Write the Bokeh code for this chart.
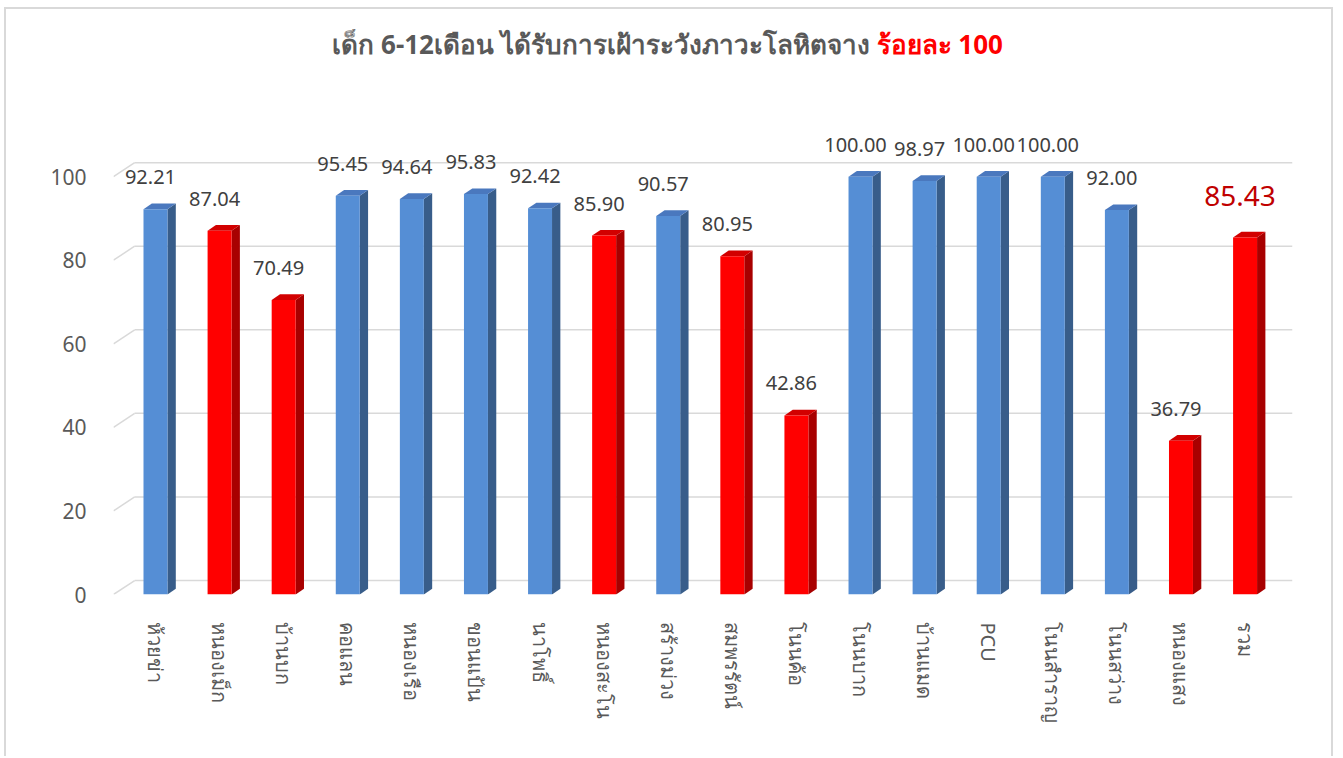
from bokeh.plotting import figure
from bokeh.models import ColumnDataSource, FixedTicker, LabelSet, Label, Range1d
from bokeh.core.properties import value
from bokeh.embed import file_html
from bokeh.resources import INLINE

# ---------------- data ----------------
categories = ["ห้วยข่า", "หนองเม็ก", "บ้านบก", "คอแลน", "หนองเรือ", "ขอนแป้น",
              "นาโพธิ์", "หนองสะโน", "สร้างม่วง", "สมพรรัตน์", "โนนค้อ", "โนนบาก",
              "บ้านแมด", "PCU", "โนนสำราญ", "โนนสว่าง", "หนองแสง", "รวม"]
values = [92.21, 87.04, 70.49, 95.45, 94.64, 95.83, 92.42, 85.90, 90.57, 80.95,
          42.86, 100.00, 98.97, 100.00, 100.00, 92.00, 36.79, 85.43]
y_ticks = [0, 20, 40, 60, 80, 100]
title_main = "เด็ก 6-12เดือน ได้รับการเฝ้าระวังภาวะโลหิตจาง "
title_red = "ร้อยละ 100"
threshold = 90

# ---------------- style ----------------
BLUE = dict(front="#558ED5", side="#385D8A", top="#4A78BE")
RED = dict(front="#FF0000", side="#A80000", top="#D20000")
BAR_W = 0.374
DX, DY = 0.13, 1.36          # bar depth (category units, value units)
GDX, GDY = 0.33, 3.35        # back-wall offset for gridlines
X0, X1 = -0.655, 17.74
FONT = "Noto Sans"

xs = list(range(len(categories)))
pal = [BLUE if v >= threshold else RED for v in values]

front = ColumnDataSource(dict(x=xs, top=values, color=[c["front"] for c in pal]))
side = ColumnDataSource(dict(
    xs=[[x + BAR_W / 2, x + BAR_W / 2 + DX, x + BAR_W / 2 + DX, x + BAR_W / 2] for x in xs],
    ys=[[0, DY, v + DY, v] for v in values],
    color=[c["side"] for c in pal]))
topf = ColumnDataSource(dict(
    xs=[[x - BAR_W / 2, x + BAR_W / 2, x + BAR_W / 2 + DX, x - BAR_W / 2 + DX] for x in xs],
    ys=[[v, v, v + DY, v + DY] for v in values],
    color=[c["top"] for c in pal]))

p = figure(width=1329, height=749, output_backend="svg", toolbar_location=None,
           x_range=Range1d(X0, X1), y_range=Range1d(0, 140),
           min_border_left=107, min_border_right=43, min_border_top=0, min_border_bottom=164,
           styles={"margin-left": "4px", "margin-top": "7px",
                   "border-top": "2px solid #D9D9D9", "border-left": "2px solid #D9D9D9",
                   "border-right": "2px solid #D9D9D9"})
p.background_fill_color = "white"
p.border_fill_color = "white"
p.outline_line_color = None
p.xgrid.grid_line_color = None
p.ygrid.grid_line_color = None

# 3D style gridlines (back wall + floor diagonal)
p.segment(x0=[X0] * len(y_ticks), y0=y_ticks,
          x1=[X0 + GDX] * len(y_ticks), y1=[t + GDY for t in y_ticks],
          line_color="#D9D9D9", line_width=1.5)
p.segment(x0=[X0 + GDX] * len(y_ticks), y0=[t + GDY for t in y_ticks],
          x1=[X1] * len(y_ticks), y1=[t + GDY for t in y_ticks],
          line_color="#D9D9D9", line_width=1.5)

p.patches("xs", "ys", source=side, fill_color="color", line_color=None)
p.patches("xs", "ys", source=topf, fill_color="color", line_color=None)
p.vbar(x="x", top="top", bottom=0, width=BAR_W, source=front,
       fill_color="color", line_color=None)

# data labels
n = len(values) - 1
lab = ColumnDataSource(dict(x=xs[:n], y=values[:n], t=["%.2f" % v for v in values[:n]]))
p.add_layout(LabelSet(x="x", y="y", text="t", source=lab, x_offset=-5, y_offset=32,
                      text_align="center", text_baseline="middle",
                      text_font=value(FONT), text_font_size="20px", text_color="#404040"))
lab2 = ColumnDataSource(dict(x=xs[n:], y=values[n:], t=["%.2f" % v for v in values[n:]]))
p.add_layout(LabelSet(x="x", y="y", text="t", source=lab2, x_offset=-5, y_offset=42,
                      text_align="center", text_baseline="middle",
                      text_font=value(FONT), text_font_size="28px", text_color="#C00000"))

# axes
p.yaxis.ticker = FixedTicker(ticks=y_ticks)
p.yaxis.axis_line_color = None
p.yaxis.major_tick_line_color = None
p.yaxis.minor_tick_line_color = None
p.yaxis.major_label_standoff = 21
p.yaxis.major_label_text_font = FONT
p.yaxis.major_label_text_font_size = "21px"
p.yaxis.major_label_text_color = "#595959"

p.xaxis.ticker = FixedTicker(ticks=xs)
p.xaxis.major_label_overrides = {x: c for x, c in zip(xs, categories)}
p.xaxis.major_label_orientation = "vertical"
p.xaxis.axis_line_color = None
p.xaxis.major_tick_line_color = None
p.xaxis.minor_tick_line_color = None
p.xaxis.major_label_standoff = 22
p.xaxis.major_label_text_font = FONT
p.xaxis.major_label_text_font_size = "20px"
p.xaxis.major_label_text_color = "#595959"

# title (two colours) – screen units are relative to the plot frame
p.add_layout(Label(x=763, y=551, x_units="screen", y_units="screen", text=title_main,
                   text_align="right", text_baseline="middle", text_font=FONT,
                   text_font_size="26px", text_font_style="bold", text_color="#595959"))
p.add_layout(Label(x=763, y=551, x_units="screen", y_units="screen", text=title_red,
                   text_align="left", text_baseline="middle", text_font=FONT,
                   text_font_size="26px", text_font_style="bold", text_color="#FF0000"))

open("out.html", "w").write(file_html(p, INLINE))
